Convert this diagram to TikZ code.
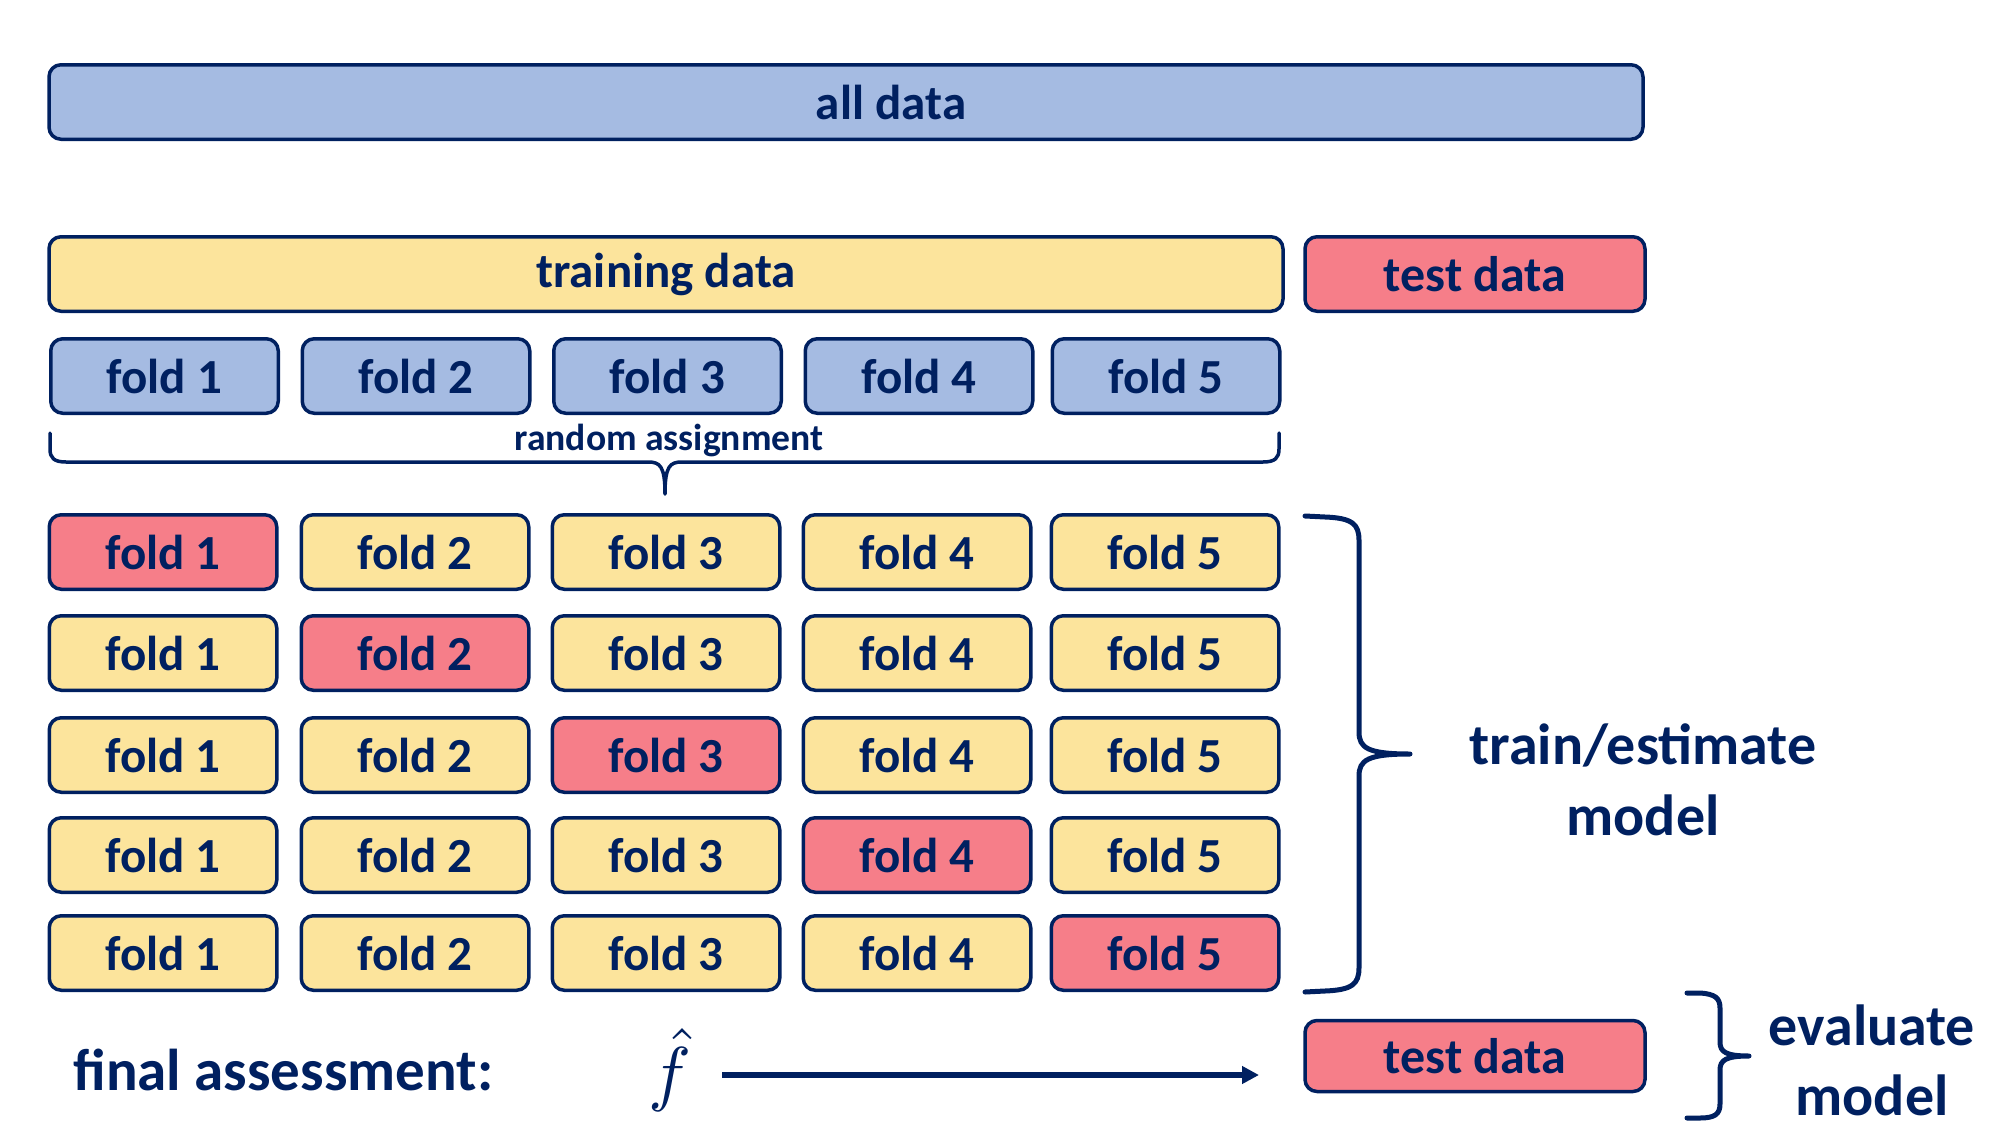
\documentclass[tikz,border=0pt]{standalone}
\usepackage{fontspec}
\setmainfont{Carlito}
\usetikzlibrary{arrows.meta}
\definecolor{navy}{HTML}{002060}
\definecolor{yel}{HTML}{FCE49C}
\definecolor{pinkred}{HTML}{F67E89}
\definecolor{chkfill}{HTML}{A5BBE2}
\tikzset{
  basebox/.style={draw=navy, line width=1.75pt, rounded corners=6pt, inner sep=0pt,
    text=navy, font=\fontsize{24.5}{29}\selectfont\bfseries},
  dotbox/.style={basebox, fill=chkfill},
  yelbox/.style={basebox, fill=yel, minimum width=113.75pt, minimum height=37.25pt},
  redbox/.style={basebox, fill=pinkred, minimum width=113.75pt, minimum height=37.25pt},
  foldbox/.style={dotbox, minimum width=113.75pt, minimum height=37.25pt},
  bracepath/.style={draw=navy, line join=round, line cap=round},
  lbl/.style={text=navy, inner sep=0pt, align=center}
}
\begin{document}
\begin{tikzpicture}[x=0.5pt,y=-0.5pt]
\useasboundingbox (0,0) rectangle (2010,1130);
% top bars
\node[dotbox, minimum width=797pt, minimum height=37.25pt] (all) at (846,102) {\hspace*{45pt}all data};
\node[basebox, fill=yel, minimum width=617pt, minimum height=37.25pt] (train) at (666,274) {training data};
\node[basebox, fill=pinkred, minimum width=170pt, minimum height=37.25pt, font=\fontsize{25}{29}\selectfont\bfseries] (testtop) at (1475,274) {test data};
% dotted folds
\foreach \c/\x in {1/164.5,2/416,3/667.5,4/919,5/1166}{
  \node[foldbox] (f\c) at (\x,376) {fold \c};
}
% random assignment brace
\draw[bracepath, line width=1.75pt] (50,433) -- (50,449) .. controls (50,458) and (54,462) .. (66,462)
  -- (648,462) .. controls (660,462) and (665,466) .. (665,494)
  .. controls (665,466) and (670,462) .. (682,462)
  -- (1263,462) .. controls (1275,462) and (1279,458) .. (1279,449) -- (1279,433);
\node[lbl, font=\fontsize{18.8}{22}\selectfont\bfseries] (rand) at (669,440) {random assignment};
% CV grid
\foreach \r/\y in {1/552,2/653,3/755,4/855,5/953}{
  \foreach \c/\x in {1/163,2/415,3/666,4/917,5/1165}{
    \ifnum\r=\c \def\st{redbox}\else\def\st{yelbox}\fi
    \node[\st] (r\r c\c) at (\x,\y) {fold \c};
  }
}
% big brace
\draw[bracepath, line width=2.5pt] (1305,516) -- (1325,517) .. controls (1352,518) and (1359,524) .. (1359,540)
  -- (1359,732) .. controls (1359,748) and (1368,754) .. (1410,754)
  .. controls (1368,754) and (1359,760) .. (1359,776)
  -- (1359,968) .. controls (1359,984) and (1352,990) .. (1325,991) -- (1305,992);
\node[lbl, font=\fontsize{29}{35.5}\selectfont\bfseries] (trainlbl) at (1643,780) {train/estimate\\model};
% final assessment
\node[lbl, anchor=west, font=\fontsize{29.5}{35}\selectfont\bfseries] (final) at (73,1070) {final assessment:};
\node[lbl, font=\fontsize{10}{12}\selectfont] (fhat) at (670,1070) {\scalebox{3.6}{$\hat{f}$}};
\node[basebox, fill=pinkred, minimum width=170pt, minimum height=35.5pt, font=\fontsize{25}{29}\selectfont\bfseries] (testbot) at (1475,1056) {test data};
\coordinate (arrS) at (722,1075);
\coordinate (arrE) at (1259,1075);
\draw[navy, line width=3pt, -{Triangle[length=8.5pt,width=8.5pt]}] (arrS) -- (arrE);
% small brace
\draw[bracepath, line width=2.5pt] (1687,993) -- (1700,993) .. controls (1715,994) and (1720,998) .. (1720,1008)
  -- (1720,1042) .. controls (1720,1052) and (1726,1056) .. (1749,1056)
  .. controls (1726,1056) and (1720,1060) .. (1720,1070)
  -- (1720,1104) .. controls (1720,1114) and (1715,1118) .. (1700,1118) -- (1687,1118);
\node[lbl, font=\fontsize{29}{35}\selectfont\bfseries] (evallbl) at (1872,1060) {evaluate\\model};
\end{tikzpicture}
\end{document}
